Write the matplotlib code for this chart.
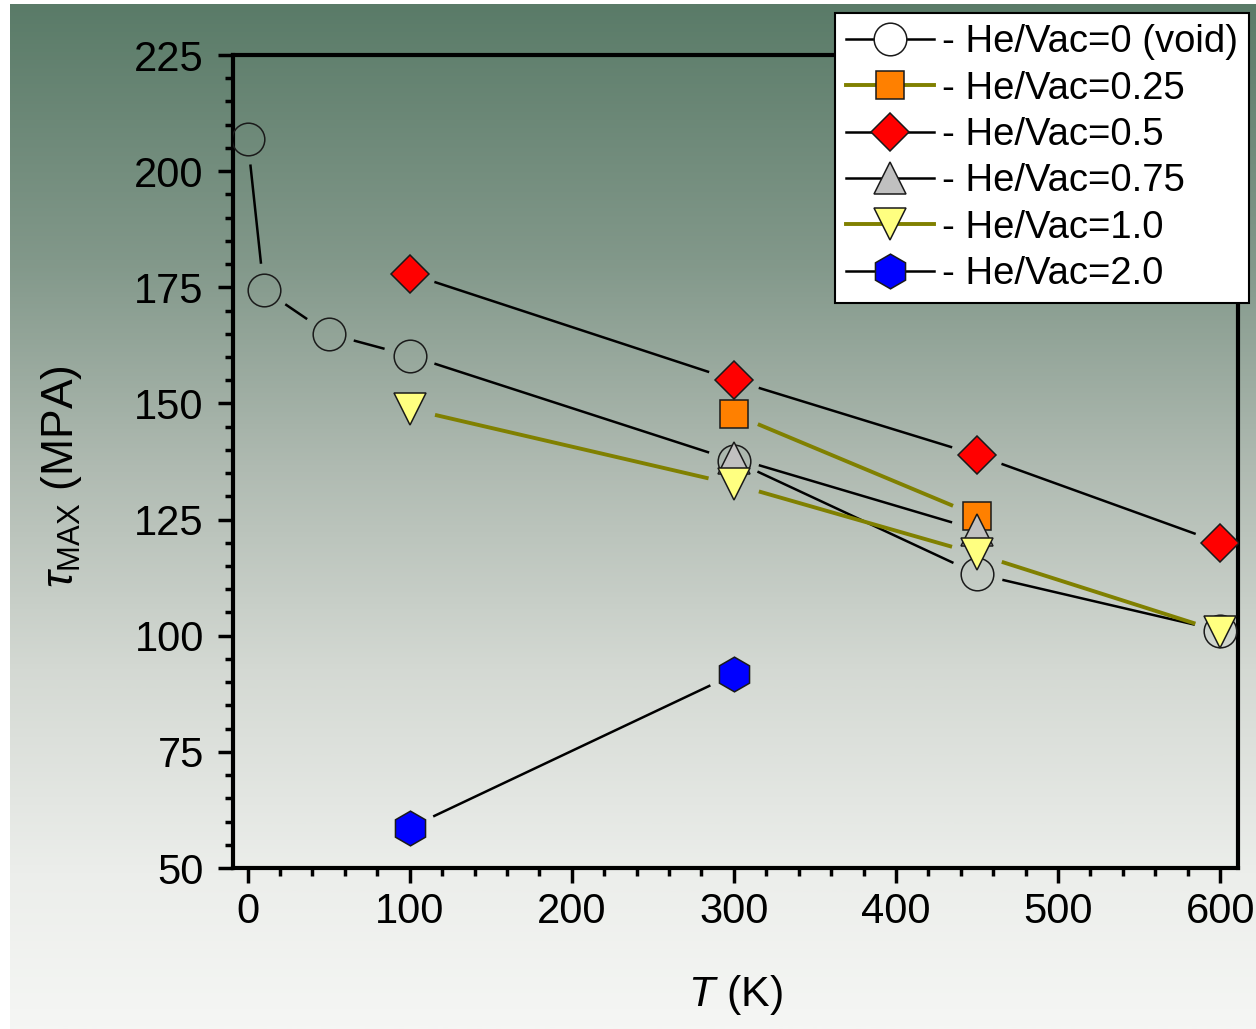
import numpy as np
import matplotlib
matplotlib.use("Agg")
import matplotlib.pyplot as plt
from matplotlib.lines import Line2D
from matplotlib.colors import LinearSegmentedColormap

plt.rcParams['font.family'] = ['Liberation Sans', 'DejaVu Sans']
plt.rcParams['mathtext.fontset'] = 'custom'
plt.rcParams['mathtext.rm'] = 'Liberation Sans'
plt.rcParams['mathtext.it'] = 'Liberation Sans:italic'

# 数据
T_void = [0, 10, 50, 100, 300, 450, 600]
tau_void = [207, 174.5, 165, 160.3, 137.7, 113.3, 101.1]

T_025 = [300, 450]
tau_025 = [147.7, 125.8]

T_05 = [100, 300, 450, 600]
tau_05 = [177.9, 155.0, 138.9, 120.0]

T_075 = [300, 450]
tau_075 = [138.3, 122.8]

T_10 = [100, 300, 450, 600]
tau_10 = [148.8, 132.6, 117.6, 100.9]

T_20 = [100, 300]
tau_20 = [58.7, 91.7]

labels = ['- He/Vac=0 (void)', '- He/Vac=0.25', '- He/Vac=0.5',
          '- He/Vac=0.75', '- He/Vac=1.0', '- He/Vac=2.0']

W, H = 1256, 1029
fig = plt.figure(figsize=(W / 100, H / 100), dpi=100)

# 背景渐变
bg = fig.add_axes([10 / W, 0, 1 - 10 / W, 1 - 4 / H], zorder=0)
stops = [(0.0, '#5a7b68'), (0.25, '#82988a'), (0.45, '#afbab1'),
         (0.65, '#d4d9d3'), (0.85, '#eceeeb'), (1.0, '#f5f6f4')]
cmap = LinearSegmentedColormap.from_list('bg', stops)
grad = np.linspace(0, 1, 512).reshape(-1, 1)
bg.imshow(grad, aspect='auto', cmap=cmap, extent=[0, 1, 0, 1], origin='upper')
bg.axis('off')

ax = fig.add_axes([233 / W, 1 - 868 / H, (1238 - 233) / W, (868 - 55) / H], zorder=1)
ax.set_facecolor('none')
ax.set_xlim(-9, 611)
ax.set_ylim(50, 225)


def gapped(xs, ys, color, lw, gap=26):
    """画出在标记附近断开的连线"""
    pts = ax.transData.transform(np.column_stack([xs, ys]))
    inv = ax.transData.inverted()
    for p0, p1 in zip(pts[:-1], pts[1:]):
        d = p1 - p0
        u = d / np.hypot(*d)
        seg = inv.transform([p0 + u * gap, p1 - u * gap])
        ax.plot(seg[:, 0], seg[:, 1], color=color, lw=lw, solid_capstyle='butt', zorder=2)


olive = '#808000'
blw, olw = 1.8, 2.8
gapped(T_void, tau_void, 'black', blw)
gapped(T_025, tau_025, olive, olw)
gapped(T_05, tau_05, 'black', blw)
gapped(T_075, tau_075, 'black', blw)
gapped(T_10, tau_10, olive, olw)
gapped(T_20, tau_20, 'black', blw)

mk = dict(ls='none', mec='#1a1a1a', mew=1.1, zorder=3)
ax.plot(T_void, tau_void, marker='o', ms=23.5, mfc='none', **mk)
ax.plot(T_025, tau_025, marker='s', ms=20, mfc='#ff8000', **mk)
ax.plot(T_05, tau_05, marker='D', ms=19.5, mfc='#ff0000', **mk)
ax.plot(T_075, tau_075, marker='^', ms=23.5, mfc='#c0c0c0', **mk)
ax.plot(T_10, tau_10, marker='v', ms=23.5, mfc='#ffff80', **mk)
ax.plot(T_20, tau_20, marker='h', ms=25, mfc='#0000ff', **mk)

# 坐标轴
for s in ax.spines.values():
    s.set_linewidth(3)
ax.set_xticks(np.arange(0, 601, 100))
ax.set_xticks(np.arange(0, 601, 20), minor=True)
ax.set_yticks(np.arange(50, 226, 25))
ax.set_yticks(np.arange(50, 226, 5), minor=True)
ax.tick_params(which='major', direction='out', length=11, width=2.5, labelsize=30)
ax.tick_params(which='minor', direction='out', length=6, width=2.5)
ax.tick_params(axis='x', which='major', pad=6)
ax.tick_params(axis='y', which='major', pad=10)
ax.tick_params(top=False, right=False)

ax.set_xlabel(r'$T$ (K)', fontsize=31, labelpad=30)
ax.set_ylabel(r'$\tau_{\mathrm{MAX}}$ (MPA)', fontsize=32, labelpad=36)
ax.yaxis.label.set_y(0.482)

# 图例
lk = dict(mec='#1a1a1a', mew=1.1)
handles = [
    Line2D([], [], color='black', lw=blw, marker='o', ms=23.5, mfc='white', **lk),
    Line2D([], [], color=olive, lw=olw, marker='s', ms=20, mfc='#ff8000', **lk),
    Line2D([], [], color='black', lw=blw, marker='D', ms=19.5, mfc='#ff0000', **lk),
    Line2D([], [], color='black', lw=blw, marker='^', ms=23.5, mfc='#c0c0c0', **lk),
    Line2D([], [], color=olive, lw=olw, marker='v', ms=23.5, mfc='#ffff80', **lk),
    Line2D([], [], color='black', lw=blw, marker='h', ms=25, mfc='#0000ff', **lk),
]
leg = fig.legend(handles, labels, loc='upper right',
                 bbox_to_anchor=(1249 / W, 1 - 13 / H), bbox_transform=fig.transFigure,
                 fontsize=27.5, frameon=True, fancybox=False, framealpha=1,
                 edgecolor='black', handlelength=2.3, handletextpad=0.2,
                 labelspacing=0.27, borderpad=0.3, borderaxespad=0)
leg.get_frame().set_linewidth(1.5)
leg.set_zorder(5)

fig.savefig('out.png', dpi=100)
